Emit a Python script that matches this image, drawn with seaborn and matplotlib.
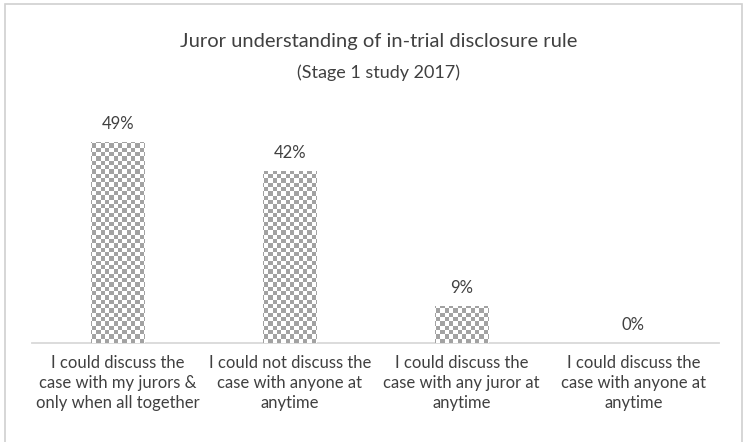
import numpy as np
import pandas as pd
import matplotlib
matplotlib.use("Agg")
import matplotlib.pyplot as plt
import seaborn as sns
from matplotlib.patches import Rectangle
from matplotlib.colors import ListedColormap

categories = [
    "I could discuss the\ncase with my jurors &\nonly when all together",
    "I could not discuss the\ncase with anyone at\nanytime",
    "I could discuss the\ncase with any juror at\nanytime",
    "I could discuss the\ncase with anyone at\nanytime",
]
values = [49, 42, 9, 0]
value_labels = ["49%", "42%", "9%", "0%"]
title_lines = ["Juror understanding of in-trial disclosure rule", "(Stage 1 study 2017)"]

sns.set_theme(style="white")
plt.rcParams['font.family'] = ['Lato', 'DejaVu Sans']

fig = plt.figure(figsize=(7.46, 4.42), dpi=100)
ax = fig.add_axes([0.043, 0.224, 0.921, 0.557])

df = pd.DataFrame({"cat": categories, "val": values})
sns.barplot(data=df, x="cat", y="val", width=0.31, color="white", ax=ax,
            edgecolor="none", linewidth=0, saturation=1)
ax.set_xlim(-0.5, 3.5)
ax.set_ylim(0, 60)

# checkerboard texture clipped to each bar
nx, ny = 160, 57
yy, xx = np.mgrid[0:ny, 0:nx]
checker = ((xx + yy) % 2).astype(float)
cmap = ListedColormap(["#ffffff", "#a2a2a2"])
for p in list(ax.patches):
    im = ax.imshow(checker, extent=(-0.5, 3.5, 0, 60), cmap=cmap, aspect="auto",
                   interpolation="nearest", origin="lower", zorder=3)
    im.set_clip_path(p)
ax.set_xlim(-0.5, 3.5)
ax.set_ylim(0, 60)

for i, (v, lab) in enumerate(zip(values, value_labels)):
    ax.annotate(lab, (i, v), xytext=(0, 7), textcoords="offset points",
                ha="center", va="bottom", fontsize=12, color="#404040")

for s in ["top", "right", "left"]:
    ax.spines[s].set_visible(False)
ax.spines["bottom"].set_color("#d9d9d9")
ax.spines["bottom"].set_linewidth(1.3)
ax.set_yticks([])
ax.set_xlabel("")
ax.set_ylabel("")
ax.tick_params(axis="x", length=0, pad=9, labelsize=12, labelcolor="#404040")
for t in ax.get_xticklabels():
    t.set_linespacing(1.3)

fig.text(0.507, 0.905, title_lines[0], ha="center", va="center", fontsize=14.5, color="#404040")
fig.text(0.507, 0.835, title_lines[1], ha="center", va="center", fontsize=13, color="#404040")

fig.patches.append(Rectangle((5/746, -0.02), (742-5)/746, (442-4)/442 + 0.02,
                             transform=fig.transFigure, fill=False,
                             edgecolor="#d0d0d0", linewidth=1.2))

fig.savefig("out.png", dpi=100)
